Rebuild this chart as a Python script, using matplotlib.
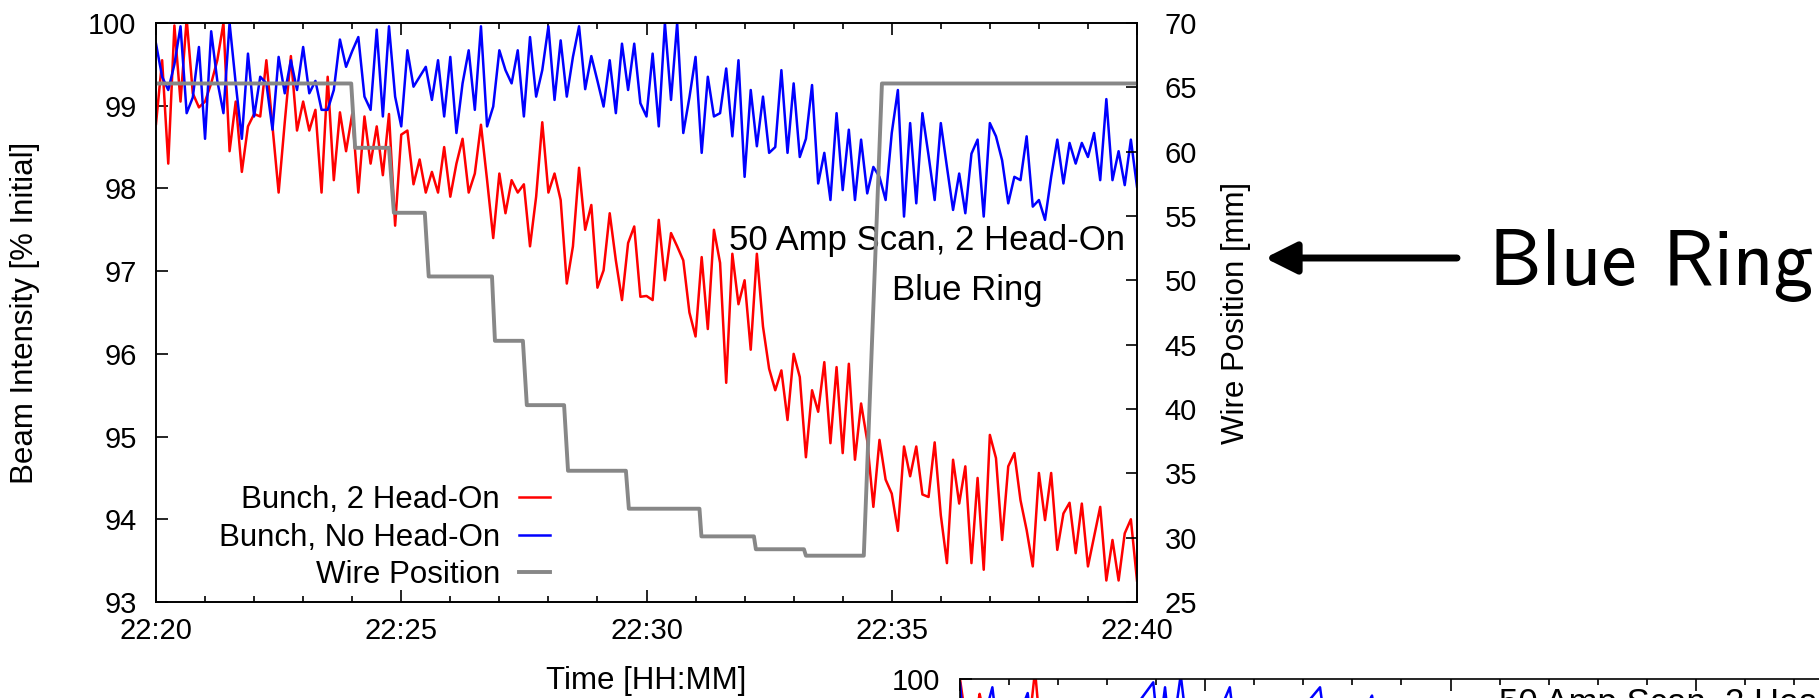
import numpy as np
import matplotlib
matplotlib.use('Agg')
from matplotlib import pyplot as plt

plt.rcParams['font.family'] = ['Liberation Sans', 'DejaVu Sans']

# time axis: minutes after 22:20, one reading every 7.5 s
step_min = 0.125

# Beam intensity [% initial], Blue ring
red_pct = [
    98.78, 99.55, 98.30, 99.97, 99.05, 100.05, 99.15, 98.98,
    99.05, 99.27, 99.55, 100.0, 98.45, 99.05, 98.20, 98.75,
    98.90, 98.87, 99.55, 98.75, 97.95, 98.80, 99.60, 98.70,
    99.05, 98.70, 98.95, 97.95, 99.35, 98.10, 98.92, 98.45,
    98.90, 97.95, 98.87, 98.30, 98.75, 98.16, 98.90, 97.55,
    98.65, 98.70, 98.05, 98.35, 97.95, 98.20, 97.95, 98.50,
    97.90, 98.30, 98.60, 97.95, 98.18, 98.77, 98.10, 97.40,
    98.18, 97.70, 98.10, 97.95, 98.05, 97.30, 97.90, 98.80,
    97.95, 98.18, 97.86, 96.85, 97.30, 98.25, 97.50, 97.80,
    96.80, 97.01, 97.70, 97.13, 96.65, 97.34, 97.54, 96.69,
    96.70, 96.65, 97.62, 96.89, 97.46, 97.30, 97.13, 96.50,
    96.21, 97.17, 96.30, 97.50, 97.10, 95.65, 97.21, 96.60,
    96.89, 96.05, 97.21, 96.33, 95.82, 95.56, 95.80, 95.20,
    96.00, 95.72, 94.75, 95.56, 95.30, 95.90, 94.92, 95.84,
    94.80, 95.88, 94.72, 95.40, 94.95, 94.15, 94.96, 94.48,
    94.31, 93.86, 94.88, 94.52, 94.88, 94.30, 94.27, 94.93,
    94.05, 93.47, 94.72, 94.19, 94.64, 93.47, 94.50, 93.39,
    95.02, 94.74, 93.75, 94.64, 94.80, 94.23, 93.87, 93.43,
    94.56, 93.99, 94.56, 93.63, 94.07, 94.20, 93.59, 94.19,
    93.43, 93.79, 94.15, 93.26, 93.75, 93.26, 93.83, 94.00,
    93.26,
]
blue_pct = [
    99.75, 99.35, 99.19, 99.50, 99.96, 98.91, 99.10, 99.71,
    98.60, 99.90, 99.30, 98.91, 100.0, 99.27, 98.60, 99.63,
    98.87, 99.35, 99.27, 98.71, 99.59, 99.15, 99.55, 99.19,
    99.71, 99.15, 99.30, 98.95, 98.95, 99.19, 99.80, 99.47,
    99.66, 99.83, 99.11, 98.95, 99.92, 98.87, 99.96, 99.11,
    98.75, 99.67, 99.23, 99.35, 99.47, 99.07, 99.55, 98.87,
    99.59, 98.67, 99.27, 99.67, 98.95, 99.96, 98.75, 98.99,
    99.67, 99.43, 99.27, 99.67, 98.87, 99.83, 99.11, 99.43,
    99.96, 99.07, 99.79, 99.11, 99.59, 99.96, 99.20, 99.60,
    99.30, 98.99, 99.55, 98.91, 99.75, 99.19, 99.75, 99.03,
    98.87, 99.63, 98.75, 100.0, 99.07, 100.0, 98.67, 99.10,
    99.59, 98.43, 99.35, 98.87, 98.91, 99.45, 98.63, 99.55,
    98.14, 99.19, 98.51, 99.11, 98.43, 98.50, 99.43, 98.43,
    99.27, 98.38, 98.60, 99.25, 98.06, 98.43, 97.86, 98.91,
    97.98, 98.71, 97.86, 98.59, 97.94, 98.26, 98.14, 97.86,
    98.67, 99.19, 97.66, 98.79, 97.82, 98.91, 98.40, 97.86,
    98.79, 98.26, 97.74, 98.18, 97.70, 98.42, 98.59, 97.66,
    98.79, 98.63, 98.34, 97.82, 98.14, 98.10, 98.63, 97.78,
    97.86, 97.62, 98.14, 98.59, 98.06, 98.55, 98.30, 98.55,
    98.38, 98.67, 98.10, 99.08, 98.10, 98.45, 98.04, 98.59,
    98.02,
]

# wire position [mm] (corner points of the scan)
wire_t = [0, 3.98, 4.06, 4.75, 4.85, 5.48, 5.56, 6.85, 6.91, 7.48, 7.56, 8.32,
          8.40, 9.58, 9.64, 11.08, 11.12, 12.19, 12.23, 13.21, 13.25, 14.43, 14.80, 20]
wire_mm = [65.3, 65.3, 60.3, 60.3, 55.25, 55.25, 50.3, 50.3, 45.3, 45.3, 40.3, 40.3,
           35.2, 35.2, 32.25, 32.25, 30.1, 30.1, 29.1, 29.1, 28.6, 28.6, 65.3, 65.3]

time_ticks = [0, 5, 10, 15, 20]
time_labels = ['22:20', '22:25', '22:30', '22:35', '22:40']

# next panel below (only its top edge is on the page)
p2_red_t = [0.0, 0.12, 0.25, 0.40, 0.55, 1.0, 1.40, 1.53, 1.65, 2.0]
p2_red = [100.0, 99.5, 99.3, 99.82, 99.4, 99.2, 99.4, 100.1, 99.3, 99.0]
p2_blue_t = [0.0, 0.1, 0.3, 0.66, 0.8, 1.1, 1.38, 1.5, 2.0, 3.0, 3.94, 4.05, 4.18,
             4.3, 4.5, 4.65, 5.0, 5.5, 5.65, 6.5, 7.34, 7.5, 8.0, 8.4, 8.55, 9.0]
p2_blue = [99.95, 99.3, 99.1, 99.9, 99.2, 99.4, 99.83, 99.2, 99.3, 99.2, 99.96, 99.3, 99.9,
           99.2, 100.05, 99.3, 99.2, 99.9, 99.2, 99.3, 99.9, 99.2, 99.3, 99.8, 99.2, 99.3]

t = np.arange(len(red_pct)) * step_min
W, H = 1819, 698

fig = plt.figure(figsize=(W / 100, H / 100), dpi=100)


def style_axes(a):
    a.set_xlim(0, 20)
    a.set_ylim(93, 100)
    a.set_xticks(time_ticks)
    a.set_xticks(np.arange(0, 21, 1), minor=True)
    a.set_xticklabels(time_labels)
    a.set_yticks(np.arange(93, 101, 1))
    for s in a.spines.values():
        s.set_linewidth(1.2)
    a.tick_params(axis='both', which='both', direction='in', labelsize=21, width=1.2)
    a.tick_params(axis='x', which='major', length=8.6, top=True, pad=11)
    a.tick_params(axis='x', which='minor', length=4.3, top=True)
    a.tick_params(axis='y', which='major', length=8.6, pad=14)


ax = fig.add_axes([156 / W, 1 - 602 / H, 981 / W, 579 / H])
style_axes(ax)
l_red, = ax.plot(t, red_pct, color='#ff0000', lw=1.8)
l_blue, = ax.plot(t, blue_pct, color='#0000ff', lw=1.8)
ax.set_xlabel('Time [HH:MM]', fontsize=22.5, va='center')
ax.xaxis.set_label_coords(0.5, -0.1365)
ax.set_ylabel('Beam Intensity [% Initial]', fontsize=22.5, va='center')
ax.yaxis.set_label_coords(-0.1335, 0.5)
ax.text(15.72, 97.255, '50 Amp Scan, 2 Head-On', fontsize=25, ha='center', va='baseline')
ax.text(16.55, 96.65, 'Blue Ring', fontsize=25, ha='center', va='baseline')

ax2 = ax.twinx()
l_wire, = ax2.plot(wire_t, wire_mm, color='#878787', lw=2.8)
ax2.set_ylim(25, 70)
ax2.set_yticks(np.arange(25, 71, 5))
ax2.tick_params(axis='y', direction='in', length=8, labelsize=21, pad=20, width=1.2)
ax2.set_ylabel('Wire Position [mm]', fontsize=22.5, va='center')
ax2.yaxis.set_label_coords(1.1005, 0.5)
for s in ax2.spines.values():
    s.set_linewidth(1.2)

ax2.legend([l_red, l_blue, l_wire], ['Bunch, 2 Head-On', 'Bunch, No Head-On', 'Wire Position'],
           loc='lower right', bbox_to_anchor=(0.4016, 0.020), frameon=False,
           markerfirst=False, handlelength=1.0, handletextpad=0.6, labelspacing=0.25,
           borderpad=0, borderaxespad=0, fontsize=22.5)

# second panel, cut by the page edge
ax3 = fig.add_axes([960 / W, 1 - (679 + 579) / H, 981 / W, 579 / H])
style_axes(ax3)
ax3.plot(p2_red_t, p2_red, color='#ff0000', lw=1.8)
ax3.plot(p2_blue_t, p2_blue, color='#0000ff', lw=1.8)
ax3.text(0.5494, 0.9413, '50 Amp Scan, 2 Head-On', fontsize=25, ha='left', va='baseline',
         transform=ax3.transAxes)

# side annotation
fig.text(1489 / W, 1 - 285 / H, 'Blue Ring', fontfamily='cmss10', fontsize=57,
         ha='left', va='baseline')
ax.annotate('', xy=(1265 / W, 1 - 258 / H), xytext=(1457 / W, 1 - 258 / H),
            xycoords='figure fraction', textcoords='figure fraction',
            arrowprops=dict(arrowstyle='-|>,head_length=0.38,head_width=0.19',
                            lw=5, color='black', mutation_scale=50,
                            shrinkA=0, shrinkB=0))

fig.savefig('out.png', dpi=100)
